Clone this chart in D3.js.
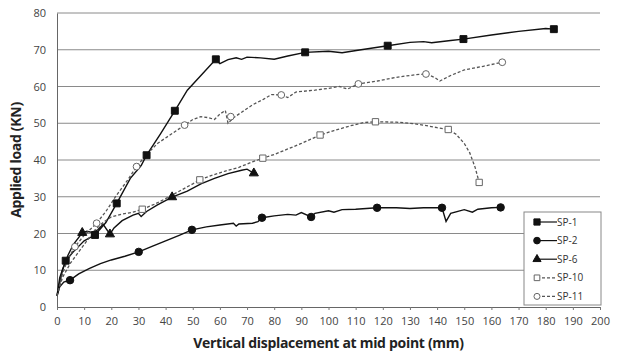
<!DOCTYPE html>
<html>
<head>
<meta charset="utf-8">
<script src="https://cdn.jsdelivr.net/npm/d3@7"></script>
<style>
  body { margin: 0; background: #fff; }
  svg { font-family: "Open Sans", "DejaVu Sans", sans-serif; }
</style>
</head>
<body>
<svg id="chart" width="621" height="356"></svg>
<script>
// axis ticks
var xTicks = d3.range(0, 201, 10);
var yTicks = d3.range(0, 81, 10);

// SP-1 (filled squares, solid)
var sp1Line = [[0,3],[1,8],[3.2,12.6],[6,15],[10,18],[14,19.6],[18,23],[22,28.2],[27,35],[31,38.5],[33,41.3],[38,47],[43.4,53.4],[48,59],[53,63],[58.5,67.4],[60,66.2],[63,67.3],[66,67.8],[68,67.4],[70,68],[75,67.8],[80,67.4],[85,68.3],[91.4,69.3],[100,69.6],[105,69.2],[112,70],[121.8,71.1],[130,72],[135,72.2],[138,71.9],[145,72.5],[149.7,72.9],[160,74],[170,75],[180,75.8],[183,75.6]];
var sp1Marks = [[3.2,12.6],[14,19.6],[22,28.2],[33,41.3],[43.4,53.4],[58.5,67.4],[91.4,69.3],[121.8,71.1],[149.7,72.9],[183,75.6]];

// SP-2 (filled circles, solid)
var sp2Line = [[0,3],[1,5.5],[2.5,6.8],[4.8,7.3],[8,9],[12,10.5],[16,11.8],[20,12.8],[25,13.8],[30.1,15],[35,16.5],[40,18],[45,19.5],[49.7,21],[55,21.8],[60,22.3],[65,22.8],[66,22],[67,22.6],[72,22.8],[74,23.2],[75.5,24.3],[80,24.8],[85,25.2],[88,25],[90,25.7],[93.6,24.5],[95,25.5],[100,26.2],[102,25.8],[105,26.5],[110,26.6],[117.9,27],[125,27],[130,26.8],[135,27],[141.8,27],[143.3,23.3],[145,25.5],[150,26.5],[153,25.8],[155,26.6],[160,27],[163.4,27.1]];
var sp2Marks = [[4.8,7.3],[30.1,15],[49.7,21],[75.5,24.3],[93.6,24.5],[117.9,27],[141.8,27],[163.4,27.1]];

// SP-6 (filled triangles, solid)
var sp6Line = [[0,3],[2,10],[4,14],[6,17],[9.3,20.2],[11,20.6],[13,20.3],[15,21],[17,22.5],[19.5,19.8],[21,21.5],[24,23.5],[28,25],[30,25.5],[31,24.6],[33,26],[37,27.8],[42.4,29.9],[48,31.5],[53,33.5],[58,35],[63,36.3],[68,37.2],[70,37.5],[72.5,36.4]];
var sp6Marks = [[9.3,20.2],[19.5,19.8],[42.4,29.9],[72.5,36.4]];

// SP-10 (open squares, dashed)
var sp10Line = [[0,3],[2,8],[5,12],[8,15],[11,18],[14,21],[17,23],[20,24.5],[24,25.3],[28,25.8],[31.4,26.6],[36,28],[40,29.5],[45,31.5],[50,33.5],[52.6,34.6],[57,35.8],[62,37],[67,38],[72,39.5],[75.8,40.5],[80,41.5],[85,43],[90,44.5],[96.9,46.8],[102,48],[108,49.3],[113,50.2],[117.3,50.4],[125,50.3],[130,50],[135,49.5],[140,48.8],[144.1,48.3],[147,47],[150,44.5],[152,42],[154,38],[155.5,33.9]];
var sp10Marks = [[31.4,26.6],[52.6,34.6],[75.8,40.5],[96.9,46.8],[117.3,50.4],[144.1,48.3],[155.5,33.9]];

// SP-11 (open circles, dashed)
var sp11Line = [[0,3],[2,9],[4,13],[6.6,16.4],[10,19.5],[14.6,22.8],[18,26],[22,30.5],[26,34.5],[29.3,38.2],[33,41.5],[37,44.5],[40,46],[43,47.5],[47,49.5],[50,51],[53,51.8],[56,51.5],[58,51],[60,52.5],[62,53.5],[63,50],[65,51.5],[68,53],[72,55],[76,56.5],[79,57.8],[82.6,57.7],[85,57],[88,58.5],[95,59],[100,59.5],[104,60],[107,59.3],[111,60.7],[118,61.5],[125,62.5],[132,63.2],[135.9,63.4],[139,62.5],[141,61.5],[145,63],[150,64.5],[157,65.5],[164,66.6]];
var sp11Marks = [[6.6,16.4],[14.6,22.8],[29.3,38.2],[47,49.5],[64,51.8],[82.6,57.7],[111,60.7],[135.9,63.4],[164,66.6]];

var seriesNames = ["SP-1", "SP-2", "SP-6", "SP-10", "SP-11"];

var series = [
  { name: seriesNames[0], line: sp1Line, marks: sp1Marks, sym: d3.symbolSquare, fill: "#111", dash: null, size: 48 },
  { name: seriesNames[1], line: sp2Line, marks: sp2Marks, sym: d3.symbolCircle, fill: "#111", dash: null, size: 44 },
  { name: seriesNames[2], line: sp6Line, marks: sp6Marks, sym: d3.symbolTriangle, fill: "#111", dash: null, size: 36 },
  { name: seriesNames[3], line: sp10Line, marks: sp10Marks, sym: d3.symbolSquare, fill: "#fff", dash: "3,2", size: 40 },
  { name: seriesNames[4], line: sp11Line, marks: sp11Marks, sym: d3.symbolCircle, fill: "#fff", dash: "3,2", size: 36 }
];

var svg = d3.select("#chart");
var margin = { left: 57, right: 21, top: 13, bottom: 49 };
var W = 621, H = 356;

var x = d3.scaleLinear().domain([0, 200]).range([margin.left, W - margin.right]);
var y = d3.scaleLinear().domain([0, 80]).range([H - margin.bottom, margin.top]);

// grid
svg.append("g").selectAll("line")
  .data(yTicks.filter(function (d) { return d > 0; }))
  .enter().append("line")
  .attr("x1", x(0)).attr("x2", x(200))
  .attr("y1", function (d) { return y(d); })
  .attr("y2", function (d) { return y(d); })
  .style("stroke", "#8a8a8a")
  .style("stroke-width", 1);

// axes
var xAxis = svg.append("g")
  .attr("transform", "translate(0," + y(0) + ")")
  .call(d3.axisBottom(x).tickValues(xTicks).tickSize(3).tickPadding(7));
var yAxis = svg.append("g")
  .attr("transform", "translate(" + x(0) + ",0)")
  .call(d3.axisLeft(y).tickValues(yTicks).tickSize(0).tickPadding(11));
[xAxis, yAxis].forEach(function (g) {
  g.select(".domain").style("stroke", "#666");
  g.selectAll(".tick line").style("stroke", "#777");
  g.selectAll("text").style("font-size", "11px").style("fill", "#444")
    .style("font-family", "'Open Sans', sans-serif");
});

// lines and markers
var line = d3.line().x(function (d) { return x(d[0]); }).y(function (d) { return y(d[1]); });

series.forEach(function (s) {
  svg.append("path")
    .datum(s.line)
    .attr("d", line)
    .style("fill", "none")
    .style("stroke", s.dash ? "#555" : "#111")
    .style("stroke-width", s.dash ? 1.3 : 1.4)
    .style("stroke-dasharray", s.dash);
});
series.forEach(function (s) {
  svg.append("g").selectAll("path")
    .data(s.marks)
    .enter().append("path")
    .attr("d", d3.symbol().type(s.sym).size(s.size))
    .attr("transform", function (d) { return "translate(" + x(d[0]) + "," + y(d[1]) + ")"; })
    .style("fill", s.fill)
    .style("stroke", s.dash ? "#666" : "#111")
    .style("stroke-width", 1);
});

// axis titles
svg.append("text")
  .attr("x", (x(0) + x(200)) / 2)
  .attr("y", 348)
  .attr("text-anchor", "middle")
  .style("font-size", "14px")
  .style("font-weight", "bold")
  .style("fill", "#222")
  .style("letter-spacing", "-0.3px")
  .text("Vertical displacement at mid point (mm)");

svg.append("text")
  .attr("transform", "translate(21," + y(40) + ") rotate(-90)")
  .attr("text-anchor", "middle")
  .style("font-size", "14px")
  .style("font-weight", "bold")
  .style("fill", "#222")
  .style("letter-spacing", "-0.3px")
  .text("Applied load (KN)");

// legend
var lg = svg.append("g").attr("transform", "translate(524,212)");
lg.append("rect")
  .attr("width", 77).attr("height", 93)
  .style("fill", "#fff")
  .style("stroke", "#888");
var item = lg.selectAll("g.item")
  .data(series)
  .enter().append("g")
  .attr("transform", function (d, i) { return "translate(0," + (10 + i * 18.6) + ")"; });
item.append("line")
  .attr("x1", 13).attr("x2", 33)
  .style("stroke", function (d) { return d.dash ? "#555" : "#111"; })
  .style("stroke-width", 1.2)
  .style("stroke-dasharray", function (d) { return d.dash; });
item.append("path")
  .attr("d", function (d) { return d3.symbol().type(d.sym).size(d.size * 0.8)(); })
  .attr("transform", "translate(13,0)")
  .style("fill", function (d) { return d.fill; })
  .style("stroke", function (d) { return d.dash ? "#666" : "#111"; });
item.append("text")
  .attr("x", 33).attr("dy", "0.35em")
  .style("font-size", "10px")
  .style("fill", "#333")
  .text(function (d) { return d.name; });
</script>
</body>
</html>
